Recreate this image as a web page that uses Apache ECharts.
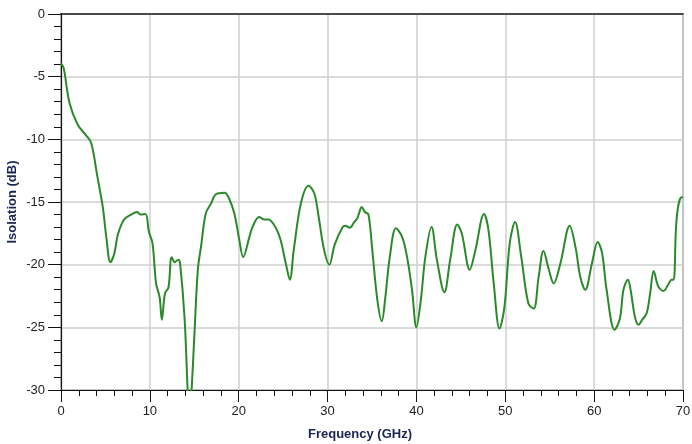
<!DOCTYPE html>
<html lang="en">
<head>
    <meta charset="UTF-8">
    <title>Isolation</title>
    <script src="https://cdn.jsdelivr.net/npm/echarts@6/dist/echarts.min.js"></script>
    <style>
        html, body { margin: 0; padding: 0; background: #fff; }
    </style>
</head>
<body>
    <div id="main" style="width: 692px; height: 444px"></div>
    <script>
        // frequency points (GHz)
        var freq = [0, 0.3, 0.96, 1.9, 2.8, 3.4, 4.1, 4.7, 5.1, 5.56, 6.0, 6.4, 7.1, 7.9, 8.6, 8.9, 9.5, 9.9,
            10.3, 10.7, 11.1, 11.35, 11.7, 12.1, 12.45, 12.8, 13.2, 13.4, 13.9, 14.25, 14.45, 14.7, 15.0, 15.4,
            15.75, 16.3, 16.9, 17.4, 18.4, 18.9, 19.5, 20.06, 20.5, 21.2, 21.55, 22.3, 22.9, 23.35, 24.2, 24.7,
            25.3, 25.75, 26.2, 27.0, 27.85, 28.5, 29.0, 29.6, 30.2, 30.8, 31.7, 32.0, 32.5, 33.0, 33.35, 33.85,
            34.2, 34.6, 35.0, 35.6, 36.1, 36.5, 37.0, 37.7, 38.4, 38.95, 39.5, 40.0, 40.5, 41.0, 41.7, 42.3,
            43.15, 43.8, 44.6, 45.1, 46.0, 46.65, 47.6, 48.1, 48.7, 49.35, 49.9, 50.5, 51.1, 51.8, 52.6, 53.2,
            53.75, 54.3, 54.9, 55.45, 56.2, 57.25, 57.9, 58.45, 59.0, 59.75, 60.4, 60.9, 61.4, 62.3, 62.9, 63.3,
            63.8, 64.1, 64.6, 65.0, 65.4, 65.9, 66.3, 66.7, 67.2, 67.8, 68.4, 68.7, 68.95, 69.2, 69.4, 69.7, 70];
        // isolation (dB)
        var iso = [-3.95, -4.3, -7.1, -8.86, -9.66, -10.3, -13.0, -15.4, -17.8, -19.8, -19.1, -17.6, -16.4, -16.0, -15.8, -16.0, -15.96, -17.4,
            -18.3, -21.5, -22.6, -24.4, -22.3, -21.8, -19.4, -19.8, -19.6, -19.9, -24.2, -30, -33, -30, -25.8, -20.4,
            -18.6, -15.9, -15.1, -14.4, -14.26, -14.7, -15.9, -18.0, -19.4, -17.8, -17.0, -16.2, -16.4, -16.4, -17.1, -18.0,
            -19.9, -21.2, -18.8, -15.1, -13.7, -14.3, -16.2, -18.8, -20.0, -18.4, -17.0, -16.9, -17.05, -16.6, -16.3, -15.4,
            -15.8, -16.0, -18.6, -22.8, -24.5, -22.6, -19.4, -17.1, -17.8, -19.4, -22.0, -25.0, -22.8, -19.4, -17.0, -19.6,
            -22.2, -19.6, -16.8, -17.5, -20.4, -18.8, -15.96, -17.2, -21.5, -25.1, -23.4, -18.3, -16.6, -19.4, -23.1, -23.5,
            -21.0, -18.9, -20.4, -21.5, -19.9, -16.9, -18.6, -21.0, -22.0, -19.9, -18.2, -19.1, -22.0, -25.2, -24.3, -22.0,
            -21.2, -22.0, -24.2, -24.8, -24.4, -23.9, -22.3, -20.5, -21.7, -22.1, -21.5, -21.2, -21.2, -17.2, -15.6, -14.7, -14.6];

        var pts = [];
        for (var i = 0; i < freq.length; i++) {
            pts.push([freq[i], iso[i]]);
        }

        var labelStyle = { color: '#222', fontSize: 13, fontFamily: 'Liberation Sans, Arial, sans-serif' };

        echarts.init(document.getElementById('main')).setOption({
            animation: false,
            grid: {
                left: 61, right: 9, top: 14, bottom: 54,
                outerBoundsMode: 'none',
                containLabel: false,
                show: true,
                borderColor: '#888',
                borderWidth: 1.5
            },
            xAxis: [{
                type: 'value',
                min: 0, max: 70, interval: 10,
                name: 'Frequency (GHz)',
                nameLocation: 'middle',
                nameGap: 38,
                nameMoveOverlap: false,
                nameTextStyle: {
                    color: '#1c2452', fontSize: 13, fontWeight: 'bold',
                    fontFamily: 'Liberation Sans, Arial, sans-serif',
                    padding: [0, 24, 0, 0]
                },
                axisLine: { show: true, onZero: false, lineStyle: { color: '#111', width: 1.2 } },
                axisTick: { show: true, length: 12, lineStyle: { color: '#111' } },
                minorTick: { show: true, splitNumber: 5, length: 6, lineStyle: { color: '#111' } },
                axisLabel: Object.assign({ margin: 15 }, labelStyle),
                splitLine: { show: true, lineStyle: { color: '#cfcfcf', width: 1.5 } }
            }, {
                type: 'value',
                position: 'top',
                min: 0, max: 70,
                axisLine: { show: true, lineStyle: { color: '#222', width: 1.5 } },
                axisTick: { show: false },
                axisLabel: { show: false },
                splitLine: { show: false }
            }],
            yAxis: {
                type: 'value',
                min: -30, max: 0, interval: 5,
                name: 'Isolation (dB)',
                nameLocation: 'middle',
                nameGap: 42,
                nameMoveOverlap: false,
                nameTextStyle: {
                    color: '#1c2452', fontSize: 13, fontWeight: 'bold',
                    fontFamily: 'Liberation Sans, Arial, sans-serif'
                },
                axisLine: { show: true, onZero: false, lineStyle: { color: '#111', width: 1.2 } },
                axisTick: { show: true, length: 13, lineStyle: { color: '#111' } },
                minorTick: { show: true, splitNumber: 5, length: 7, lineStyle: { color: '#111' } },
                axisLabel: Object.assign({ margin: 16 }, labelStyle),
                splitLine: { show: true, lineStyle: { color: '#cfcfcf', width: 1.5 } }
            },
            series: [{
                type: 'line',
                xAxisIndex: 0,
                data: pts,
                showSymbol: false,
                smooth: 0.35,
                clip: true,
                lineStyle: { color: '#2a8a2a', width: 2 }
            }]
        });
    </script>
</body>
</html>
